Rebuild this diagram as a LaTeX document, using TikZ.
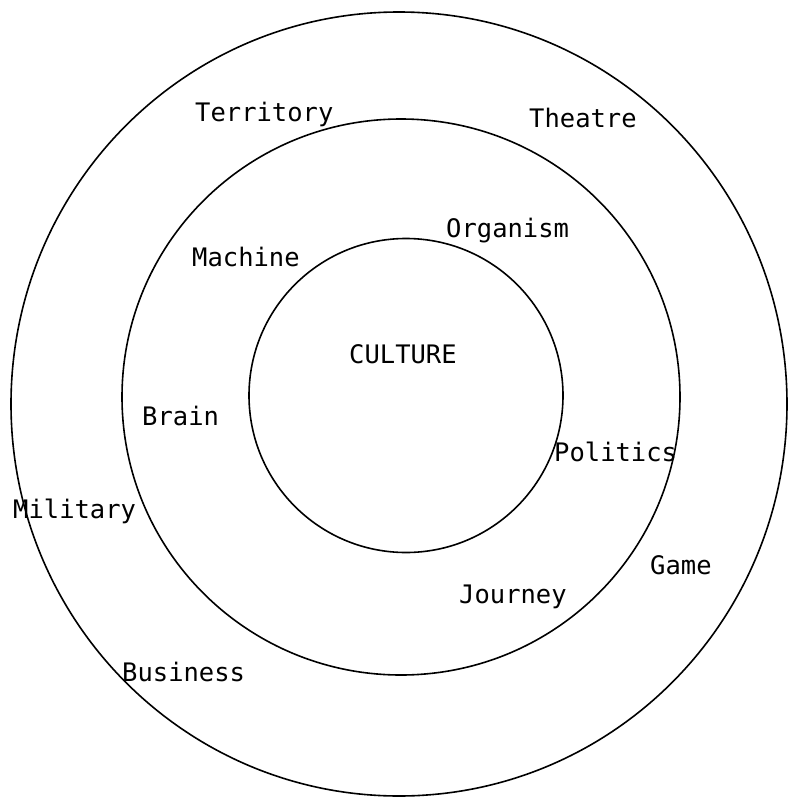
\documentclass[tikz,border=0pt]{standalone}
\usepackage{fontspec}
\newfontfamily\plotfont{DejaVu Sans Mono}
\begin{document}
\begin{tikzpicture}[x=1pt,y=-1pt,
  ring/.style={draw=black,line width=1.6pt},
  lbl/.style={font=\plotfont\fontsize{25.5}{28}\selectfont,inner sep=0pt,anchor=base west}]
\useasboundingbox (0,0) rectangle (788,798);
\draw[ring] (399,404) ellipse [x radius=388pt, y radius=392pt];
\draw[ring] (401,397) ellipse [x radius=279pt, y radius=278pt];
\draw[ring] (406,395.5) ellipse [x radius=157pt, y radius=157pt];
\node[lbl] (territory) at (195,121) {Territory};
\node[lbl] (theatre) at (529,127) {Theatre};
\node[lbl] (organism) at (446,237) {Organism};
\node[lbl] (machine) at (192,266) {Machine};
\node[lbl] (culture) at (349,363) {CULTURE};
\node[lbl] (brain) at (142,425) {Brain};
\node[lbl] (politics) at (554,461) {Politics};
\node[lbl] (military) at (13,518) {Military};
\node[lbl] (game) at (650,574) {Game};
\node[lbl] (journey) at (459,603) {Journey};
\node[lbl] (business) at (122,681) {Business};
\end{tikzpicture}
\end{document}
